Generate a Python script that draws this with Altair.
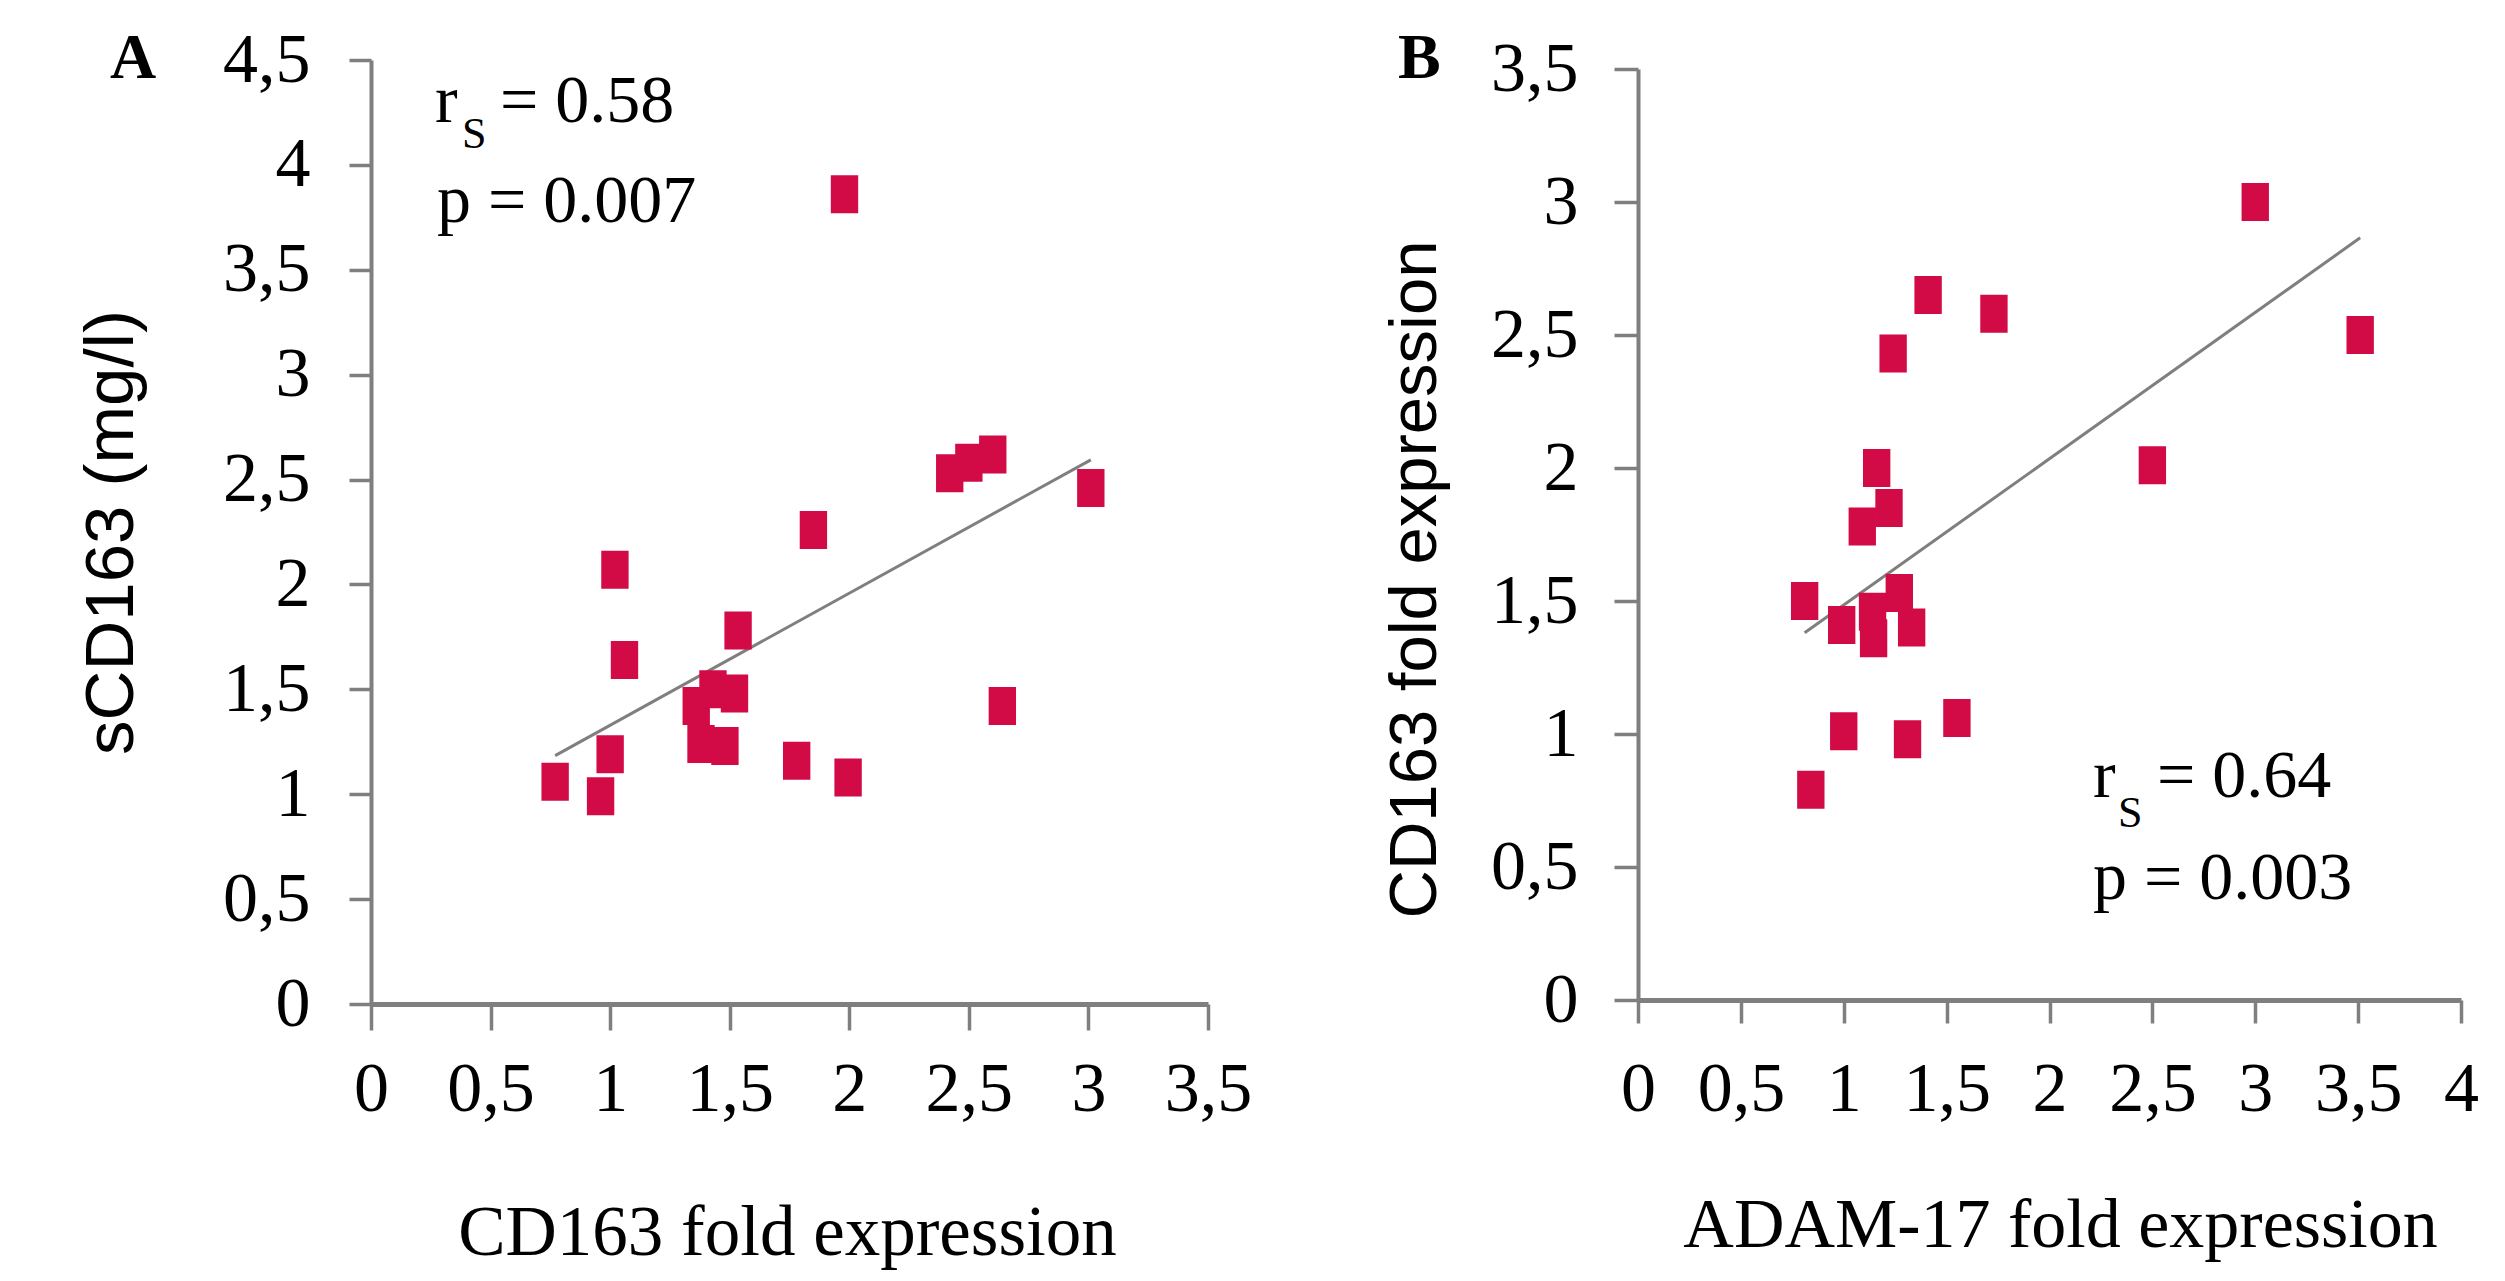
import altair as alt
import pandas as pd

# ---- data ----
a_x = [0.77, 0.96, 1.00, 1.02, 1.06, 1.36, 1.38, 1.43, 1.48, 1.52, 1.535, 1.78, 1.85, 1.98, 1.995, 2.42, 2.50, 2.60, 2.64, 3.01]
a_y = [1.06, 0.99, 1.19, 2.07, 1.64, 1.42, 1.24, 1.50, 1.23, 1.48, 1.78, 1.16, 2.26, 3.86, 1.08, 2.53, 2.58, 2.62, 1.42, 2.46]

b_x = [0.81, 0.84, 0.99, 1.00, 1.09, 1.14, 1.145, 1.16, 1.22, 1.24, 1.27, 1.31, 1.33, 1.41, 1.55, 1.73, 2.50, 3.00, 3.51]
b_y = [1.50, 0.79, 1.41, 1.01, 1.78, 1.46, 1.36, 2.00, 1.85, 2.43, 1.53, 0.98, 1.40, 2.65, 1.06, 2.58, 2.01, 3.00, 2.50]

a_x_ticks = [0, 0.5, 1, 1.5, 2, 2.5, 3, 3.5]
a_y_ticks = [0, 0.5, 1, 1.5, 2, 2.5, 3, 3.5, 4, 4.5]
b_x_ticks = [0, 0.5, 1, 1.5, 2, 2.5, 3, 3.5, 4]
b_y_ticks = [0, 0.5, 1, 1.5, 2, 2.5, 3, 3.5]

a_xtitle = "CD163 fold expression"
a_ytitle = "sCD163 (mg/l)"
b_xtitle = "ADAM-17 fold expression"
b_ytitle = "CD163 fold expression"

# ---- styling ----
SERIF = "Liberation Serif"
SANS = "Liberation Sans"
RED = "#D20A46"
GREY = "#7F7F7F"
BOX = "M-0.72,-1L0.72,-1L0.72,1L-0.72,1Z"
LBL = "replace(toString(datum.value), '.', ',')"

dfa = pd.DataFrame({"x": a_x, "y": a_y})
dfb = pd.DataFrame({"x": b_x, "y": b_y})
one = pd.DataFrame({"k": [0]})


def xaxis(values, title, tick, pad, tx, ty, fs, offset=0):
    return alt.Axis(values=values, orient="bottom", offset=offset, grid=False,
                    tickSize=tick, tickWidth=3.5, tickColor=GREY,
                    domainColor=GREY, domainWidth=5,
                    labelFont=SERIF, labelFontSize=70, labelColor="black",
                    labelPadding=pad, labelFlush=False, labelOverlap=False,
                    labelExpr=LBL,
                    title=title, titleFont=SERIF, titleFontSize=fs,
                    titleFontWeight="normal", titleColor="black",
                    titleX=tx, titleY=ty, titleAlign="center",
                    titleBaseline="alphabetic", titleAngle=0)


def yaxis(values, title, tick, pad, tx, ty, fs, offset=0):
    return alt.Axis(values=values, orient="left", offset=offset, grid=False,
                    tickSize=tick, tickWidth=3.5, tickColor=GREY,
                    domainColor=GREY, domainWidth=4,
                    labelFont=SERIF, labelFontSize=70, labelColor="black",
                    labelPadding=pad, labelFlush=False, labelOverlap=False,
                    labelAlign="right", labelBaseline="middle",
                    labelExpr=LBL,
                    title=title, titleFont=SANS, titleFontSize=fs,
                    titleFontWeight="normal", titleColor="black",
                    titleX=tx, titleY=ty, titleAlign="center",
                    titleBaseline="alphabetic", titleAngle=270)


# Panel A encodings
XA = alt.X("x:Q", scale=alt.Scale(domain=[0, 3.5], range=[0, 837], nice=False, zero=False),
           axis=xaxis(a_x_ticks, a_xtitle, 26, 25, 416, 250, 71))
YA = alt.Y("y:Q", scale=alt.Scale(domain=[0, 4.5], range=[944, 0], nice=False, zero=False),
           axis=yaxis(a_y_ticks, a_ytitle, 22, 39, -239, 472, 69))

# Panel B encodings
XB = alt.X("x:Q", scale=alt.Scale(domain=[0, 4], range=[1267, 2090], nice=False, zero=False),
           axis=xaxis(b_x_ticks, b_xtitle, 23, 32, 1689, 246, 70, offset=-4))
YB = alt.Y("y:Q", scale=alt.Scale(domain=[0, 3.5], range=[940, 9], nice=False, zero=False),
           axis=yaxis(b_y_ticks, b_ytitle, 24, 36, -203, 519, 67, offset=-1267))

lineA = alt.Chart(dfa).transform_regression("x", "y").mark_line(color=GREY, strokeWidth=3).encode(x=XA, y=YA)
ptsA = alt.Chart(dfa).mark_point(shape=BOX, size=1444, filled=True, color=RED, opacity=1, strokeWidth=0).encode(x=XA, y=YA)
layerA = alt.layer(lineA, ptsA)

lineB = alt.Chart(dfb).transform_regression("x", "y").mark_line(color=GREY, strokeWidth=3).encode(x=XB, y=YB)
ptsB = alt.Chart(dfb).mark_point(shape=BOX, size=1444, filled=True, color=RED, opacity=1, strokeWidth=0).encode(x=XB, y=YB)
layerB = alt.layer(lineB, ptsB)


def txt(s, x, y, fs, weight="normal"):
    return alt.Chart(one).mark_text(text=s, font=SERIF, fontSize=fs, fontWeight=weight,
                                    color="black", align="left", baseline="alphabetic").encode(
        x=alt.value(x), y=alt.value(y))


texts = [
    txt("A", -261, 18, 64, "bold"),
    txt("B", 1027, 18, 64, "bold"),
    txt("r", 64, 62, 68), txt("S", 91, 88, 44), txt("= 0.58", 129, 62, 68),
    txt("p = 0.007", 66, 162, 68),
    txt("r", 1722, 737, 68), txt("S", 1747, 767, 44), txt("= 0.64", 1786, 737, 68),
    txt("p = 0.003", 1722, 839, 68),
]

chart = alt.layer(layerA, layerB, *texts).resolve_scale(
    x="independent", y="independent"
).resolve_axis(
    x="independent", y="independent"
).properties(
    width=2090, height=944,
    autosize=alt.AutoSizeParams(type="none"),
    padding={"left": 363, "top": 52, "right": 20, "bottom": 266},
    background="white",
).configure_view(stroke=None)

chart.save("out.html", embed_options={"renderer": "svg", "actions": False})
